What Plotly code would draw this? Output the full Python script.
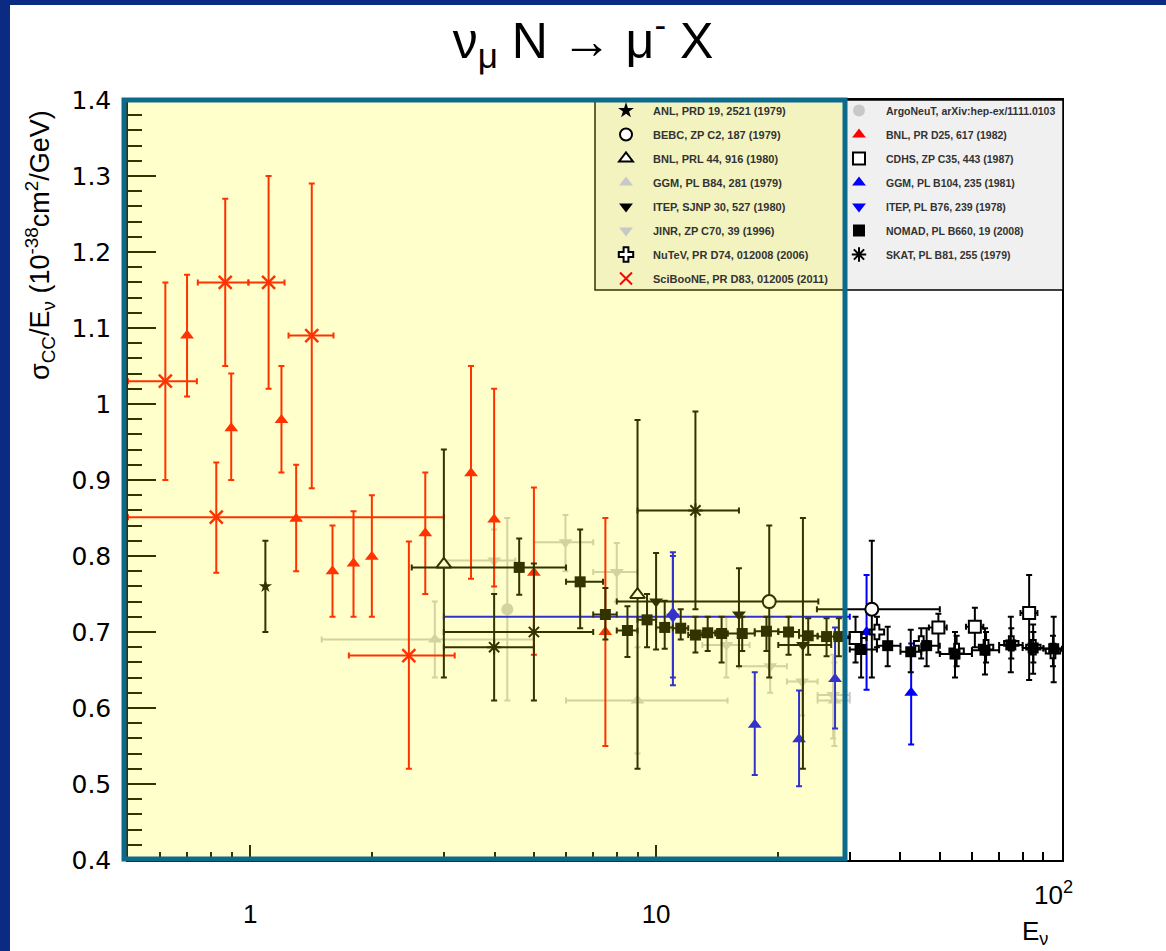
import plotly.graph_objects as go
import math

# ---------------- data ----------------
# ANL, PRD 19, 2521 (1979)
anl_E = [1.09]; anl_v = [0.76]; anl_hi = [0.82]; anl_lo = [0.70]

# BEBC, ZP C2, 187 (1979)
bebc_E = [19.0, 34.0]; bebc_v = [0.74, 0.73]; bebc_hi = [0.84, 0.82]; bebc_lo = [0.64, 0.64]
bebc_Elo = [8.0, 24.9]; bebc_Ehi = [25.1, 50.0]

# BNL, PRL 44, 916 (1980)
bnlprl_E = [3.0, 9.0]; bnlprl_v = [0.789, 0.749]; bnlprl_hi = [0.94, 0.979]; bnlprl_lo = [0.64, 0.52]

# GGM, PL B84, 281 (1979)
ggm84_E = [2.85, 9.0, 27.5]; ggm84_v = [0.69, 0.61, 0.61]
ggm84_hi = [0.74, 0.68, 0.66]; ggm84_lo = [0.64, 0.54, 0.55]
ggm84_Elo = [1.5, 6.0, 25.0]; ggm84_Ehi = [5.0, 15.0, 30.0]

# ITEP, SJNP 30, 527 (1980)
itep30_E = [10.0, 16.0, 23.0]; itep30_v = [0.74, 0.723, 0.683]
itep30_hi = [0.804, 0.784, 0.85]; itep30_lo = [0.677, 0.655, 0.52]
itep30_Elo = [10.0, 16.0, 20.0]; itep30_Ehi = [10.0, 16.0, 27.0]

# JINR, ZP C70, 39 (1996)
jinr_E = [3.99, 5.98, 8.0, 14.9, 19.1, 22.9, 27.3]
jinr_v = [0.794, 0.818, 0.779, 0.683, 0.655, 0.635, 0.617]
jinr_hi = [0.835, 0.854, 0.817, 0.72, 0.72, 0.68, 0.67]
jinr_lo = [0.75, 0.78, 0.74, 0.64, 0.62, 0.59, 0.56]
jinr_Elo = [3.0, 5.0, 7.0, 13.0, 16.0, 21.0, 25.0]
jinr_Ehi = [4.5, 7.0, 9.0, 17.0, 21.0, 25.0, 30.0]

# NuTeV, PR D74, 012008 (2006)
nutev_E = [35.0, 45.0, 55.0, 65.0, 75.0, 85.0, 95.0]
nutev_v = [0.70, 0.685, 0.675, 0.68, 0.685, 0.68, 0.675]
nutev_hi = [0.72, 0.705, 0.695, 0.70, 0.705, 0.70, 0.695]
nutev_lo = [0.68, 0.665, 0.655, 0.66, 0.665, 0.66, 0.655]

# SciBooNE, PR D83, 012005 (2011)
sci_E = [0.618, 0.825, 0.868, 1.11, 1.418, 2.46]
sci_v = [1.03, 0.851, 1.16, 1.16, 1.09, 0.669]
sci_hi = [1.16, 0.923, 1.27, 1.30, 1.29, 0.819]
sci_lo = [0.90, 0.778, 1.05, 1.02, 0.889, 0.52]
sci_Elo = [0.5, 0.5, 0.743, 0.99, 1.243, 1.75]
sci_Ehi = [0.739, 3.0, 0.99, 1.215, 1.604, 3.19]

# ArgoNeuT, arXiv:hep-ex/1111.0103
argo_E = [4.3]; argo_v = [0.73]; argo_hi = [0.85]; argo_lo = [0.61]

# BNL, PR D25, 617 (1982)
bnl25_E = [0.699, 0.898, 1.194, 1.298, 1.595, 1.797, 1.994, 2.7, 3.5, 3.99, 5.0, 7.5]
bnl25_v = [1.09, 0.968, 0.979, 0.849, 0.780, 0.79, 0.799, 0.83, 0.909, 0.848, 0.778, 0.70]
bnl25_hi = [1.17, 1.04, 1.05, 0.92, 0.84, 0.859, 0.88, 0.91, 1.05, 1.02, 0.89, 0.85]
bnl25_lo = [1.01, 0.90, 0.91, 0.78, 0.72, 0.72, 0.72, 0.75, 0.77, 0.76, 0.67, 0.55]

# CDHS, ZP C35, 443 (1987)
cdhs_E = [31.0, 49.6, 61.0, 83.0]; cdhs_v = [0.692, 0.706, 0.707, 0.725]
cdhs_hi = [0.72, 0.724, 0.732, 0.775]; cdhs_lo = [0.66, 0.673, 0.68, 0.637]
cdhs_Elo = [29.0, 47.0, 58.0, 79.0]; cdhs_Ehi = [33.0, 52.0, 64.0, 87.0]

# GGM, PL B104, 235 (1981)
ggm104_E = [11.0, 17.5, 22.5, 27.6, 33.0, 42.5]
ggm104_v = [0.725, 0.578, 0.559, 0.638, 0.70, 0.62]
ggm104_hi = [0.805, 0.647, 0.623, 0.706, 0.775, 0.685]
ggm104_lo = [0.63, 0.512, 0.497, 0.573, 0.624, 0.552]

# ITEP, PL B76, 239 (1978)
itep76_E = [11.0]; itep76_v = [0.72]; itep76_hi = [0.80]; itep76_lo = [0.64]
itep76_Elo = [3.0]; itep76_Ehi = [30.0]

# NOMAD, PL B660, 19 (2008)
nomad_E = [4.6, 6.5, 7.5, 8.5, 9.5, 10.5, 11.5, 12.5, 13.4, 14.5, 16.3, 18.7, 21.2, 23.7, 26.3, 28.2,
           32.0, 37.2, 42.4, 46.4, 54.5, 64.6, 74.8, 84.9, 95.4]
nomad_v = [0.785, 0.766, 0.723, 0.702, 0.716, 0.706, 0.705, 0.696, 0.699, 0.698, 0.698, 0.701, 0.70, 0.695,
           0.694, 0.694, 0.677, 0.682, 0.674, 0.682, 0.671, 0.676, 0.683, 0.679, 0.678]
nomad_hi = [0.823, 0.835, 0.758, 0.734, 0.75, 0.741, 0.73, 0.72, 0.72, 0.72, 0.72, 0.72, 0.72, 0.718,
            0.718, 0.718, 0.70, 0.707, 0.703, 0.705, 0.70, 0.705, 0.72, 0.71, 0.72]
nomad_lo = [0.749, 0.705, 0.69, 0.667, 0.68, 0.678, 0.69, 0.673, 0.675, 0.66, 0.675, 0.675, 0.67, 0.67,
            0.668, 0.668, 0.64, 0.655, 0.647, 0.655, 0.64, 0.644, 0.647, 0.645, 0.634]
nomad_Elo = [2.5, 6.0, 7.0, 8.0, 9.0, 10.0, 11.0, 12.0, 13.0, 14.0, 15.0, 17.5, 20.0, 22.5, 25.0, 27.5,
             30.0, 35.0, 40.0, 45.0, 50.0, 60.0, 70.0, 80.0, 90.0]
nomad_Ehi = [6.0, 7.4, 8.0, 9.0, 10.0, 11.0, 12.0, 13.0, 14.0, 15.0, 17.5, 20.0, 22.5, 25.0, 27.5, 30.0,
             35.0, 40.0, 45.0, 50.0, 60.0, 70.0, 80.0, 90.0, 100.0]

# SKAT, PL B81, 255 (1979)
skat_E = [3.99, 5.0, 12.5]; skat_v = [0.68, 0.70, 0.86]
skat_hi = [0.75, 0.79, 0.99]; skat_lo = [0.61, 0.61, 0.73]
skat_Elo = [3.0, 3.0, 9.0]; skat_Ehi = [5.0, 7.0, 16.0]

# axis ticks
y_ticks = [0.4, 0.5, 0.6, 0.7, 0.8, 0.9, 1.0, 1.1, 1.2, 1.3, 1.4]
y_ticktext = ["0.4", "0.5", "0.6", "0.7", "0.8", "0.9", "1", "1.1", "1.2", "1.3", "1.4"]
x_ticks = [1, 10, 100]
x_ticktext = ["1", "10", ""]          # the "10^2" label is raised, drawn as an annotation
x_last_label = "10<sup>2</sup>"
x_minor = [0.6, 0.7, 0.8, 0.9, 2, 3, 4, 5, 6, 7, 8, 9, 20, 30, 40, 50, 60, 70, 80, 90]

# ---------------- styling ----------------
BLACK = "#000000"; RED = "#ff0000"; BLUE = "#0000ff"; LGRAY = "#c8c8c8"
NARROW = "Liberation Sans Narrow, Arial Narrow, Liberation Sans, Arial"
fig = go.Figure()


def add(name, E, v, hi, lo, color, symbol, size, legend, rank, Elo=None, Ehi=None,
        fill=None, lw=0):
    ey = dict(type="data", symmetric=False,
              array=[h - c for h, c in zip(hi, v)],
              arrayminus=[c - l for l, c in zip(lo, v)],
              color=color, thickness=2, width=3)
    ex = None
    if Elo is not None:
        ex = dict(type="data", symmetric=False,
                  array=[h - c for h, c in zip(Ehi, E)],
                  arrayminus=[c - l for l, c in zip(Elo, E)],
                  color=color, thickness=2, width=3)
    mk = dict(symbol=symbol, size=size, color=fill if fill else color,
              line=dict(color=color, width=lw))
    fig.add_trace(go.Scatter(x=E, y=v, mode="markers", name="<b>" + name + "</b>",
                             marker=mk, error_y=ey, error_x=ex, legend=legend,
                             legendrank=rank, legendgroup=name, showlegend=True))


# draw light ones first, dark on top
add("GGM, PL B84, 281 (1979)", ggm84_E, ggm84_v, ggm84_hi, ggm84_lo, LGRAY, "triangle-up", 12,
    "legend", 4, ggm84_Elo, ggm84_Ehi)
add("JINR, ZP C70, 39 (1996)", jinr_E, jinr_v, jinr_hi, jinr_lo, LGRAY, "triangle-down", 12,
    "legend", 6, jinr_Elo, jinr_Ehi)
add("ArgoNeuT, arXiv:hep-ex/1111.0103", argo_E, argo_v, argo_hi, argo_lo, LGRAY, "circle", 12,
    "legend2", 1)
add("BNL, PR D25, 617 (1982)", bnl25_E, bnl25_v, bnl25_hi, bnl25_lo, RED, "triangle-up", 12,
    "legend2", 2)
add("SciBooNE, PR D83, 012005 (2011)", sci_E, sci_v, sci_hi, sci_lo, RED, "x-thin-open", 13,
    "legend", 8, sci_Elo, sci_Ehi, lw=2.5)
add("GGM, PL B104, 235 (1981)", ggm104_E, ggm104_v, ggm104_hi, ggm104_lo, BLUE, "triangle-up", 12,
    "legend2", 4)
add("ITEP, PL B76, 239 (1978)", itep76_E, itep76_v, itep76_hi, itep76_lo, BLUE, "triangle-down", 12,
    "legend2", 5, itep76_Elo, itep76_Ehi)
add("ANL, PRD 19, 2521 (1979)", anl_E, anl_v, anl_hi, anl_lo, BLACK, "star", 10, "legend", 1)
add("SKAT, PL B81, 255 (1979)", skat_E, skat_v, skat_hi, skat_lo, BLACK, "asterisk-open", 12,
    "legend2", 7, skat_Elo, skat_Ehi, lw=2)
add("NuTeV, PR D74, 012008 (2006)", nutev_E, nutev_v, nutev_hi, nutev_lo, BLACK, "cross", 12,
    "legend", 7, fill="#ffffff", lw=2)
add("CDHS, ZP C35, 443 (1987)", cdhs_E, cdhs_v, cdhs_hi, cdhs_lo, BLACK, "square", 12,
    "legend2", 3, cdhs_Elo, cdhs_Ehi, fill="#ffffff", lw=2)
add("ITEP, SJNP 30, 527 (1980)", itep30_E, itep30_v, itep30_hi, itep30_lo, BLACK, "triangle-down", 12,
    "legend", 5, itep30_Elo, itep30_Ehi)
add("NOMAD, PL B660, 19 (2008)", nomad_E, nomad_v, nomad_hi, nomad_lo, BLACK, "square", 11,
    "legend2", 6, nomad_Elo, nomad_Ehi)
add("BNL, PRL 44, 916 (1980)", bnlprl_E, bnlprl_v, bnlprl_hi, bnlprl_lo, BLACK, "triangle-up", 13,
    "legend", 3, fill="#ffffff", lw=2)
add("BEBC, ZP C2, 187 (1979)", bebc_E, bebc_v, bebc_hi, bebc_lo, BLACK, "circle", 13,
    "legend", 2, bebc_Elo, bebc_Ehi, fill="#ffffff", lw=2)

# ---------------- layout ----------------
L, R, T, B = 128, 104, 100, 91
W, H = 1166, 951
pw, ph = W - L - R, H - T - B


def px(xp):
    return (xp - L) / pw


def py(yp):
    return (H - B - yp) / ph


legend_common = dict(bgcolor="rgba(0,0,0,0)", borderwidth=0, tracegroupgap=5,
                     xanchor="left", yanchor="top", itemsizing="constant", itemwidth=44)

fig.update_layout(
    width=W, height=H,
    margin=dict(l=L, r=R, t=T, b=B),
    paper_bgcolor="white", plot_bgcolor="white",
    showlegend=True,
    legend=dict(x=px(599), y=py(96),
                font=dict(family="Liberation Sans, Arial", size=11, color="#333333"),
                **legend_common),
    legend2=dict(x=px(832), y=py(96),
                 font=dict(family="Liberation Sans, Arial", size=10.5, color="#333333"),
                 **legend_common),
    title=dict(text="ν<sub>μ</sub> N → μ<sup>-</sup> X", x=px(595), xanchor="center",
               y=1 - 40 / H, yanchor="middle", yref="container",
               font=dict(family=NARROW, size=50, color="black")),
    xaxis=dict(type="log", range=[math.log10(0.5), 2], showgrid=False, zeroline=False,
               showline=True, mirror=True, linecolor="black", linewidth=1.5,
               ticks="inside", tickvals=x_ticks, ticktext=x_ticktext, ticklen=15,
               tickwidth=1.5, tickcolor="black", ticklabelstandoff=30,
               tickfont=dict(family=NARROW, size=26, color="black"),
               minor=dict(ticks="inside", tickmode="array", tickvals=x_minor, ticklen=8,
                          tickwidth=1.5, tickcolor="black")),
    yaxis=dict(range=[0.4, 1.4], showgrid=False, zeroline=False, showline=True, mirror=True,
               linecolor="black", linewidth=1.5, ticks="inside", tickvals=y_ticks,
               ticktext=y_ticktext, ticklen=28, tickwidth=1.5, tickcolor="black",
               ticklabelstandoff=10,
               tickfont=dict(family="DejaVu Sans, Liberation Sans", size=25, color="black"),
               minor=dict(ticks="inside", dtick=0.02, tick0=0.4, ticklen=14, tickwidth=1.5,
                          tickcolor="black")),
)

shapes = [
    # slide frame (dark blue strips)
    dict(type="rect", xref="paper", yref="paper", x0=px(0), x1=px(10), y0=py(H), y1=py(0),
         fillcolor="#0b2a82", line=dict(width=0), layer="above"),
    dict(type="rect", xref="paper", yref="paper", x0=px(0), x1=px(W), y0=py(5), y1=py(0),
         fillcolor="#0b2a82", line=dict(width=0), layer="above"),
    # legend box
    dict(type="rect", xref="paper", yref="paper", x0=px(595), x1=px(1063), y0=py(290), y1=py(100),
         fillcolor="#f0f0f0", line=dict(color="black", width=1.5), layer="above"),
    # translucent yellow highlight
    dict(type="rect", xref="paper", yref="paper", x0=px(124), x1=px(845), y0=py(859), y1=py(100),
         fillcolor="rgba(255,255,0,0.2)", line=dict(width=0), layer="above"),
    # teal border
    dict(type="rect", xref="paper", yref="paper", x0=px(124), x1=px(845), y0=py(859), y1=py(100),
         fillcolor="rgba(0,0,0,0)", line=dict(color="#0e6a8c", width=5), layer="above"),
]
fig.update_layout(shapes=shapes)

fig.add_annotation(text="σ<sub>CC</sub>/E<sub>ν</sub> (10<sup>-38</sup>cm<sup>2</sup>/GeV)",
                   xref="paper", yref="paper", x=px(40), y=py(245), textangle=-90,
                   showarrow=False, xanchor="center", yanchor="middle",
                   font=dict(family=NARROW, size=27, color="black"))
fig.add_annotation(text=x_last_label, xref="x", yref="paper", x=math.log10(100) - 0.02,
                   y=py(893), showarrow=False, xanchor="center", yanchor="middle",
                   font=dict(family=NARROW, size=26, color="black"))
fig.add_annotation(text="E<sub>ν</sub>", xref="paper", yref="paper", x=px(1035), y=py(932),
                   showarrow=False, xanchor="center", yanchor="middle",
                   font=dict(family=NARROW, size=26, color="black"))

fig.write_html("out.html")
